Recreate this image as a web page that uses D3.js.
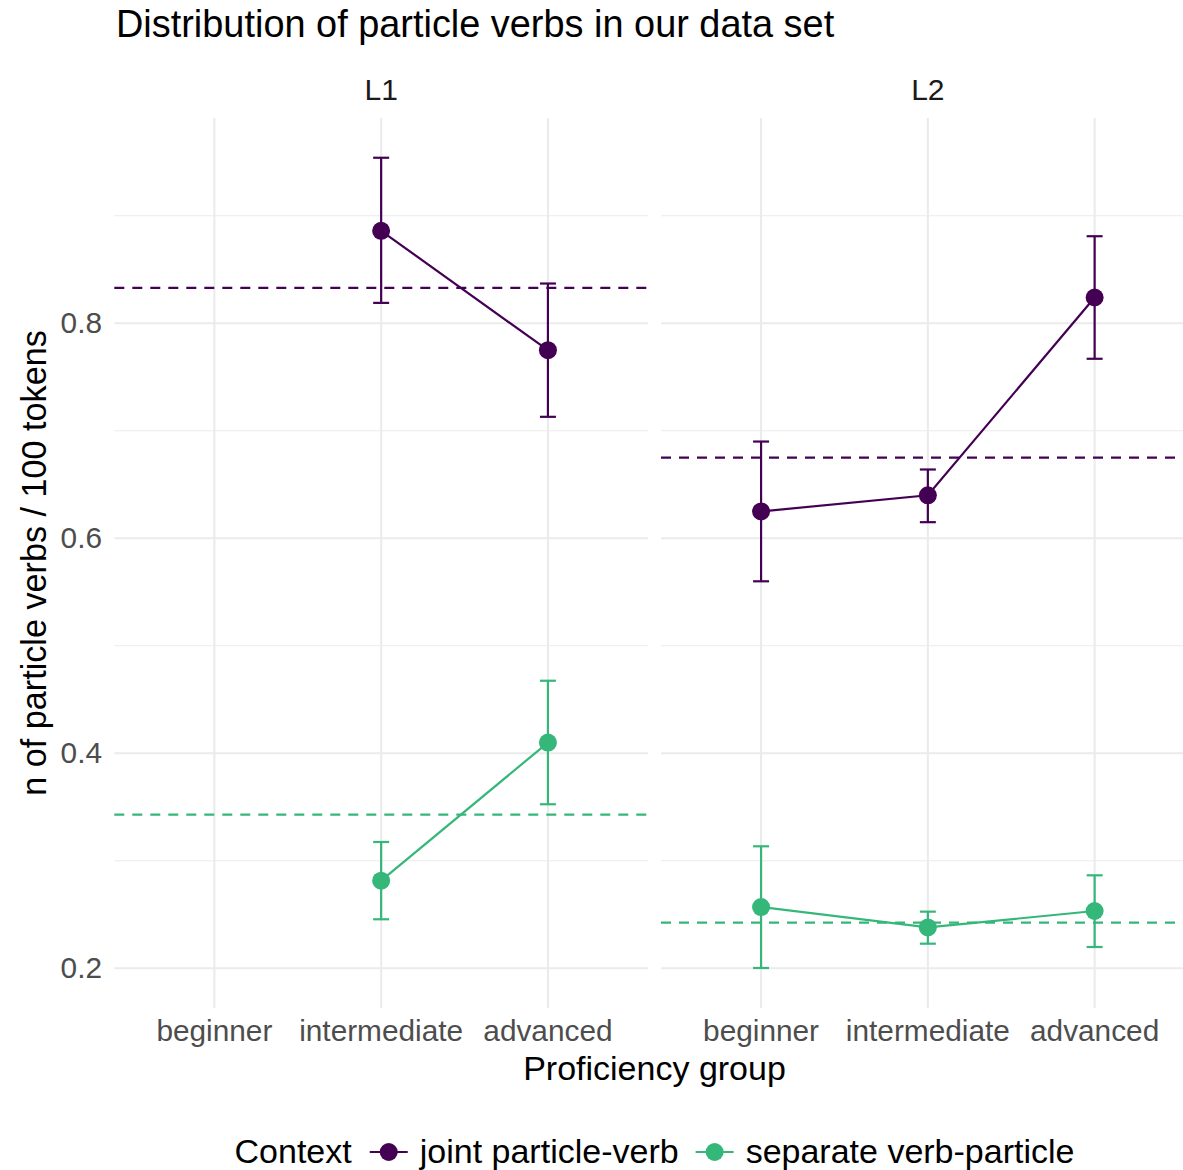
<!DOCTYPE html>
<html>
<head>
<meta charset="utf-8">
<script src="https://cdn.jsdelivr.net/npm/d3@7"></script>
<style>
  body { margin: 0; background: #fff; }
  text { font-family: "Liberation Sans", Arial, Helvetica, sans-serif; }
</style>
</head>
<body>
<div id="chart"></div>
<script>
// data
const groups = ["beginner", "intermediate", "advanced"];
const panels = ["L1", "L2"];
const contexts = ["joint particle-verb", "separate verb-particle"];
const colors = ["#440154", "#35b779"];

// mean per group, null = no data
const l1Joint = [null, 0.886, 0.775];
const l1JointLo = [null, 0.819, 0.713];
const l1JointHi = [null, 0.954, 0.837];
const l1Sep = [null, 0.2815, 0.410];
const l1SepLo = [null, 0.2456, 0.3526];
const l1SepHi = [null, 0.3175, 0.4675];

const l2Joint = [0.625, 0.640, 0.824];
const l2JointLo = [0.560, 0.615, 0.767];
const l2JointHi = [0.690, 0.664, 0.881];
const l2Sep = [0.257, 0.238, 0.2533];
const l2SepLo = [0.2003, 0.2229, 0.2198];
const l2SepHi = [0.3135, 0.2527, 0.2865];

// overall mean per panel (dashed lines): [joint, separate]
const l1Overall = [0.833, 0.343];
const l2Overall = [0.675, 0.2424];

const yMajor = [0.2, 0.4, 0.6, 0.8];
const yMinor = [0.3, 0.5, 0.7, 0.9];

// build series
const series = [
  { panel: "L1", ctx: 0, mean: l1Joint, lo: l1JointLo, hi: l1JointHi },
  { panel: "L1", ctx: 1, mean: l1Sep, lo: l1SepLo, hi: l1SepHi },
  { panel: "L2", ctx: 0, mean: l2Joint, lo: l2JointLo, hi: l2JointHi },
  { panel: "L2", ctx: 1, mean: l2Sep, lo: l2SepLo, hi: l2SepHi }
];
const overall = { L1: l1Overall, L2: l2Overall };

var width = 1183, height = 1170;
var svg = d3.select("#chart").append("svg").attr("width", width).attr("height", height);

// panel layout
var panelTop = 118, panelBottom = 1008;
var panelX = { L1: [114.3, 648], L2: [661, 1194.7] };

var yScale = d3.scaleLinear().domain([0.2, 0.8]).range([968.3, 323.3]);
var xScales = {};
panels.forEach(function (p) {
  xScales[p] = d3.scalePoint().domain(groups).range(panelX[p]).padding(0.6);
});

var grid = "#ebebeb";

panels.forEach(function (p) {
  var g = svg.append("g");
  var x = xScales[p];
  var x0 = panelX[p][0], x1 = panelX[p][1];

  // minor grid
  g.selectAll(".minor").data(yMinor).enter().append("line")
    .attr("x1", x0).attr("x2", x1)
    .attr("y1", d => yScale(d)).attr("y2", d => yScale(d))
    .attr("stroke", grid).attr("stroke-width", 1.1);
  // major grid
  g.selectAll(".major").data(yMajor).enter().append("line")
    .attr("x1", x0).attr("x2", x1)
    .attr("y1", d => yScale(d)).attr("y2", d => yScale(d))
    .attr("stroke", grid).attr("stroke-width", 2.1);
  g.selectAll(".vmajor").data(groups).enter().append("line")
    .attr("x1", d => x(d)).attr("x2", d => x(d))
    .attr("y1", panelTop).attr("y2", panelBottom)
    .attr("stroke", grid).attr("stroke-width", 2.1);

  // strip label
  svg.append("text")
    .attr("x", x(groups[1]))
    .attr("y", 100)
    .attr("text-anchor", "middle")
    .attr("font-size", 30)
    .attr("fill", "#1a1a1a")
    .text(p);

  // x tick labels
  svg.selectAll(null).data(groups).enter().append("text")
    .attr("x", d => x(d))
    .attr("y", 1041)
    .attr("text-anchor", "middle")
    .attr("font-size", 29.8)
    .attr("fill", "#4d4d4d")
    .text(d => d);

  // dashed overall means
  g.selectAll(".hl").data(overall[p]).enter().append("line")
    .attr("x1", x0).attr("x2", x1)
    .attr("y1", d => yScale(d)).attr("y2", d => yScale(d))
    .attr("stroke", (d, i) => colors[i])
    .attr("stroke-width", 2.2)
    .attr("stroke-dasharray", "10,8");
});

// y tick labels (left panel only)
svg.selectAll(null).data(yMajor).enter().append("text")
  .attr("x", 102)
  .attr("y", d => yScale(d) + 10)
  .attr("text-anchor", "end")
  .attr("font-size", 29.8)
  .attr("fill", "#4d4d4d")
  .text(d => d.toFixed(1));

// lines, error bars, points
series.forEach(function (s) {
  var x = xScales[s.panel];
  var col = colors[s.ctx];
  var pts = groups.map(function (gname, i) {
    return { g: gname, m: s.mean[i], lo: s.lo[i], hi: s.hi[i] };
  }).filter(d => d.m !== null);

  var line = d3.line().x(d => x(d.g)).y(d => yScale(d.m));
  svg.append("path")
    .datum(pts)
    .attr("d", line)
    .attr("fill", "none")
    .attr("stroke", col)
    .attr("stroke-width", 2.2);

  var eb = svg.append("g").attr("stroke", col).attr("stroke-width", 2.2);
  eb.selectAll(null).data(pts).enter().append("line")
    .attr("x1", d => x(d.g)).attr("x2", d => x(d.g))
    .attr("y1", d => yScale(d.lo)).attr("y2", d => yScale(d.hi));
  eb.selectAll(null).data(pts).enter().append("line")
    .attr("x1", d => x(d.g) - 8).attr("x2", d => x(d.g) + 8)
    .attr("y1", d => yScale(d.lo)).attr("y2", d => yScale(d.lo));
  eb.selectAll(null).data(pts).enter().append("line")
    .attr("x1", d => x(d.g) - 8).attr("x2", d => x(d.g) + 8)
    .attr("y1", d => yScale(d.hi)).attr("y2", d => yScale(d.hi));

  svg.selectAll(null).data(pts).enter().append("circle")
    .attr("cx", d => x(d.g))
    .attr("cy", d => yScale(d.m))
    .attr("r", 9)
    .attr("fill", col);
});

// title
svg.append("text")
  .attr("x", 116).attr("y", 37)
  .attr("font-size", 37.9)
  .attr("fill", "#000")
  .text("Distribution of particle verbs in our data set");

// axis titles
var plotCenterX = (panelX.L1[0] + panelX.L2[1]) / 2;
svg.append("text")
  .attr("x", plotCenterX).attr("y", 1080)
  .attr("text-anchor", "middle")
  .attr("font-size", 34)
  .attr("fill", "#000")
  .text("Proficiency group");

svg.append("text")
  .attr("transform", "translate(46," + ((panelTop + panelBottom) / 2) + ") rotate(-90)")
  .attr("text-anchor", "middle")
  .attr("font-size", 34.2)
  .attr("fill", "#000")
  .text("n of particle verbs / 100 tokens");

// legend
var legend = svg.append("g");
var legY = 1152;
var title = legend.append("text")
  .attr("x", 0).attr("y", legY + 11)
  .attr("font-size", 34)
  .text("Context");
var cursor = title.node().getComputedTextLength() + 18;
contexts.forEach(function (c, i) {
  legend.append("line")
    .attr("x1", cursor).attr("x2", cursor + 38)
    .attr("y1", legY).attr("y2", legY)
    .attr("stroke", colors[i]).attr("stroke-width", 2.2);
  legend.append("circle")
    .attr("cx", cursor + 19).attr("cy", legY).attr("r", 9)
    .attr("fill", colors[i]);
  cursor += 50;
  var t = legend.append("text")
    .attr("x", cursor).attr("y", legY + 11)
    .attr("font-size", 34)
    .text(c);
  cursor += t.node().getComputedTextLength() + 17;
});
var legW = cursor - 17;
legend.attr("transform", "translate(" + (plotCenterX - legW / 2) + ",0)");
</script>
</body>
</html>
